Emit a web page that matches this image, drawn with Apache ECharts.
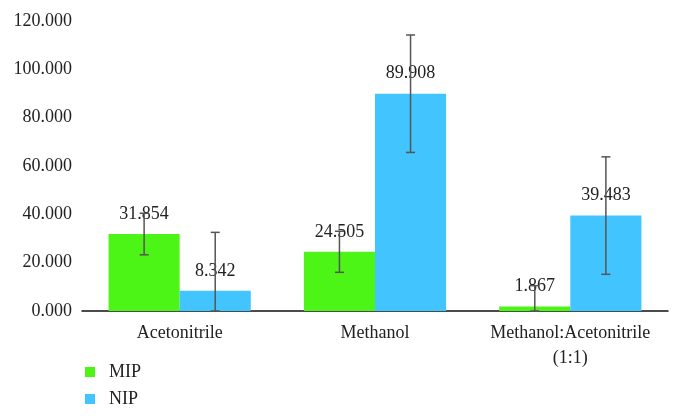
<!DOCTYPE html>
<html>
<head>
<meta charset="utf-8">
<script src="https://cdn.jsdelivr.net/npm/echarts@6/dist/echarts.min.js"></script>
<style>
    html, body { margin: 0; padding: 0; background: #fff; }
    #chart { width: 682px; height: 416px; }
</style>
</head>
<body>
<div id="chart"></div>
<script>
const categories = ['Acetonitrile', 'Methanol', 'Methanol:Acetonitrile\n(1:1)']
const mipValues = [31.854, 24.505, 1.867]
const nipValues = [8.342, 89.908, 39.483]
const mipErrors = [8.6, 8.5, 8.6]
const nipErrors = [24.2, 24.3, 24.3]
const yTicks = { min: 0, max: 120, interval: 20 }

const fontFamily = '"Liberation Serif", "DejaVu Serif", serif'
const barFrac = 0.364
const mipColor = '#4cf516'
const nipColor = '#42c5ff'

// error bar data: [category index, value, error, side]
const errData = []
mipValues.forEach((v, i) => errData.push([i, v, mipErrors[i], -1]))
nipValues.forEach((v, i) => errData.push([i, v, nipErrors[i], 1]))

const chart = echarts.init(document.getElementById('chart'))
chart.setOption({
    animation: false,
    textStyle: { fontFamily: fontFamily },
    grid: { left: 82, right: 14, top: 21, bottom: 105, containLabel: false },
    legend: {
        orient: 'vertical',
        left: 80,
        top: 358,
        itemWidth: 10,
        itemHeight: 10,
        itemGap: 9,
        icon: 'rect',
        textStyle: { fontSize: 18, color: '#222', fontFamily: fontFamily, padding: [0, 0, 0, 9], lineHeight: 18 },
        data: ['MIP', 'NIP']
    },
    xAxis: {
        type: 'category',
        data: categories,
        axisLine: { lineStyle: { color: '#111', width: 1.5 } },
        axisTick: { show: false },
        axisLabel: { interval: 0, fontSize: 18, color: '#222', margin: 10, lineHeight: 25, fontFamily: fontFamily }
    },
    yAxis: {
        type: 'value',
        min: yTicks.min,
        max: yTicks.max,
        interval: yTicks.interval,
        axisLine: { show: false },
        axisTick: { show: false },
        splitLine: { show: false },
        axisLabel: {
            fontSize: 18, color: '#222', margin: 10, fontFamily: fontFamily,
            formatter: v => v.toFixed(3)
        }
    },
    series: [
        {
            name: 'MIP',
            type: 'bar',
            data: mipValues,
            barWidth: (barFrac * 100) + '%',
            barGap: '0%',
            itemStyle: { color: mipColor },
            label: {
                show: true, position: 'top', distance: 11, fontSize: 18, color: '#222',
                fontFamily: fontFamily, formatter: p => p.value.toFixed(3)
            }
        },
        {
            name: 'NIP',
            type: 'bar',
            data: nipValues,
            barWidth: (barFrac * 100) + '%',
            barGap: '0%',
            itemStyle: { color: nipColor },
            label: {
                show: true, position: 'top', distance: 11, fontSize: 18, color: '#222',
                fontFamily: fontFamily, formatter: p => p.value.toFixed(3)
            }
        },
        {
            name: 'err',
            type: 'custom',
            z: 10,
            silent: true,
            data: errData,
            renderItem: (params, api) => {
                const idx = api.value(0)
                const val = api.value(1)
                const err = api.value(2)
                const side = api.value(3)
                const bandW = api.size([1, 0])[0]
                const bw = bandW * barFrac
                const top = api.coord([idx, val + err])
                const bot = api.coord([idx, Math.max(0, val - err)])
                const x = top[0] + side * bw / 2
                const cap = 4.5
                const style = { stroke: '#555', lineWidth: 1.5 }
                return {
                    type: 'group',
                    children: [
                        { type: 'line', shape: { x1: x, y1: top[1], x2: x, y2: bot[1] }, style: style },
                        { type: 'line', shape: { x1: x - cap, y1: top[1], x2: x + cap, y2: top[1] }, style: style },
                        { type: 'line', shape: { x1: x - cap, y1: bot[1], x2: x + cap, y2: bot[1] }, style: style }
                    ]
                }
            }
        }
    ]
})
</script>
</body>
</html>
